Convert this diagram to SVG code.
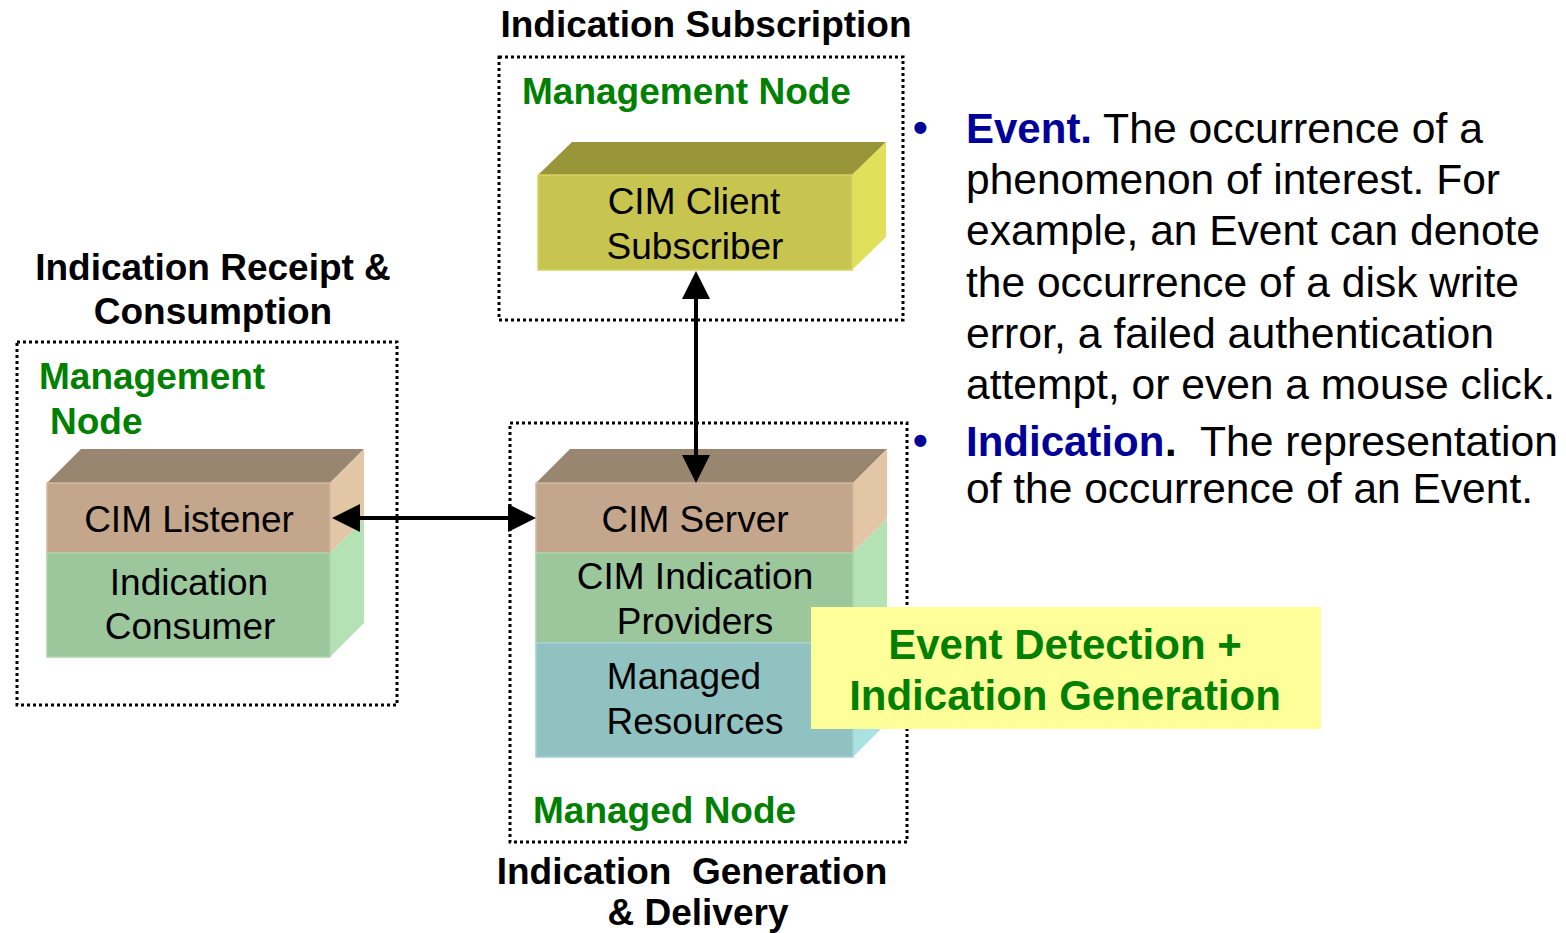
<svg xmlns="http://www.w3.org/2000/svg" width="1566" height="933" viewBox="0 0 1566 933">
  <style>
    .title { font-family: "Liberation Sans", Arial, sans-serif; font-weight: bold; font-size: 37px; fill: #000; white-space: pre; }
    .green { font-family: "Liberation Sans", Arial, sans-serif; font-weight: bold; font-size: 37px; fill: #008000; }
    .lbl { font-family: "Liberation Sans", Arial, sans-serif; font-size: 37px; fill: #000; text-anchor: middle; }
    .hl { font-family: "Liberation Sans", Arial, sans-serif; font-weight: bold; font-size: 42px; fill: #008000; text-anchor: middle; }
    .body { font-family: "Liberation Sans", Arial, sans-serif; font-size: 42px; fill: #000; white-space: pre; }
    .term { font-family: "Liberation Sans", Arial, sans-serif; font-weight: bold; font-size: 42px; fill: #000099; }
    .dot { font-family: "Liberation Sans", Arial, sans-serif; font-weight: bold; font-size: 42px; fill: #000; }
    .mid { text-anchor: middle; }
    .dotted { fill: none; stroke: #000; stroke-width: 3; stroke-dasharray: 3 3; }
    .tanF { fill: #c4a68c; stroke: #d2b8a0; stroke-width: 1.5; }
    .tanT { fill: #998670; }
    .tanR { fill: #e2c6a6; }
    .grnF { fill: #9cc69c; stroke: #acd4ac; stroke-width: 1.5; }
    .grnR { fill: #b4e2b4; }
    .bluF { fill: #90c2c2; stroke: #a2d2d2; stroke-width: 1.5; }
    .bluR { fill: #aae2e2; }
    .ylwF { fill: #c8c450; stroke: #d6d266; stroke-width: 1.5; }
    .ylwT { fill: #99963a; }
    .ylwR { fill: #e1e05a; }
    .conn { stroke: #000; stroke-width: 4; fill: none; }
  </style>
  <defs>
    <marker id="head" viewBox="0 0 28 28" refX="0" refY="14" markerWidth="28" markerHeight="28" markerUnits="userSpaceOnUse" orient="auto-start-reverse">
      <path d="M0,0 L28,14 L0,28 z" fill="#000"/>
    </marker>
  </defs>

  <!-- Subscription side -->
  <g id="subscription-area">
    <text class="title mid" x="706" y="37">Indication Subscription</text>
    <rect class="dotted" x="499" y="57" width="404" height="263"/>
    <text class="green" x="522" y="104">Management Node</text>
  </g>
  <g id="cim-client">
    <polygon class="ylwT" points="538,175 572,142 886,142 852,175"/>
    <polygon class="ylwR" points="852,175 886,142 886,237 852,270"/>
    <rect class="ylwF" x="538" y="175" width="314" height="95"/>
    <text class="lbl" x="694" y="214">CIM Client</text>
    <text class="lbl" x="695" y="259">Subscriber</text>
  </g>

  <!-- Receipt side -->
  <g id="receipt-area">
    <text class="title mid" x="213" y="280">Indication Receipt &amp;</text>
    <text class="title mid" x="213" y="324">Consumption</text>
    <rect class="dotted" x="17" y="342" width="380" height="363"/>
    <text class="green" x="39" y="389">Management</text>
    <text class="green" x="50" y="434">Node</text>
  </g>
  <g id="cim-listener">
    <polygon class="tanT" points="47,483 81,449 364,449 330,483"/>
    <polygon class="tanR" points="330,483 364,449 364,519 330,553"/>
    <polygon class="grnR" points="330,553 364,519 364,623 330,657"/>
    <rect class="tanF" x="47" y="483" width="283" height="70"/>
    <rect class="grnF" x="47" y="553" width="283" height="104"/>
    <text class="lbl" x="189" y="532">CIM Listener</text>
    <text class="lbl" x="189" y="595">Indication</text>
    <text class="lbl" x="190" y="639">Consumer</text>
  </g>

  <!-- Managed side -->
  <g id="managed-area">
    <rect class="dotted" x="510" y="423" width="397" height="419"/>
    <text class="green" x="533" y="823">Managed Node</text>
    <text class="title mid" x="692" y="884">Indication  Generation</text>
    <text class="title mid" x="698" y="925">&amp; Delivery</text>
  </g>
  <g id="cim-server">
    <polygon class="tanT" points="536,483 570,449 887,449 853,483"/>
    <polygon class="tanR" points="853,483 887,449 887,519 853,553"/>
    <polygon class="grnR" points="853,553 887,519 887,609 853,643"/>
    <polygon class="bluR" points="853,643 887,609 887,723 853,757"/>
    <rect class="tanF" x="536" y="483" width="317" height="70"/>
    <rect class="grnF" x="536" y="553" width="317" height="90"/>
    <rect class="bluF" x="536" y="643" width="317" height="114"/>
    <text class="lbl" x="695" y="532">CIM Server</text>
    <text class="lbl" x="695" y="589">CIM Indication</text>
    <text class="lbl" x="695" y="634">Providers</text>
    <text class="lbl" x="684" y="689">Managed</text>
    <text class="lbl" x="695" y="734">Resources</text>
  </g>
  <g id="event-detection">
    <rect x="811" y="607" width="510" height="122" fill="#ffff99"/>
    <text class="hl" x="1065" y="659">Event Detection +</text>
    <text class="hl" x="1065" y="710">Indication Generation</text>
  </g>

  <!-- Connectors -->
  <g id="connectors">
    <line class="conn" x1="696" y1="299" x2="696" y2="455" marker-start="url(#head)" marker-end="url(#head)"/>
    <line class="conn" x1="360" y1="518" x2="508" y2="518" marker-start="url(#head)" marker-end="url(#head)"/>
  </g>

  <!-- Definitions list -->
  <g id="definitions">
    <text class="term" x="913" y="142">•</text>
    <text class="term" x="966" y="143">Event.</text>
    <text class="body" x="1092" y="143" textLength="391" lengthAdjust="spacingAndGlyphs"> The occurrence of a</text>
    <text class="body" x="966" y="194" textLength="534" lengthAdjust="spacingAndGlyphs">phenomenon of interest. For</text>
    <text class="body" x="966" y="245" textLength="574" lengthAdjust="spacingAndGlyphs">example, an Event can denote</text>
    <text class="body" x="966" y="297" textLength="553" lengthAdjust="spacingAndGlyphs">the occurrence of a disk write</text>
    <text class="body" x="966" y="348" textLength="528" lengthAdjust="spacingAndGlyphs">error, a failed authentication</text>
    <text class="body" x="966" y="399" textLength="589" lengthAdjust="spacingAndGlyphs">attempt, or even a mouse click.</text>
    <text class="term" x="913" y="455">•</text>
    <text class="term" x="966" y="456">Indication</text>
    <text class="dot" x="1165" y="456">.</text>
    <text class="body" x="1177" y="456" textLength="381" lengthAdjust="spacingAndGlyphs">  The representation</text>
    <text class="body" x="966" y="503" textLength="567" lengthAdjust="spacingAndGlyphs">of the occurrence of an Event.</text>
  </g>
</svg>
